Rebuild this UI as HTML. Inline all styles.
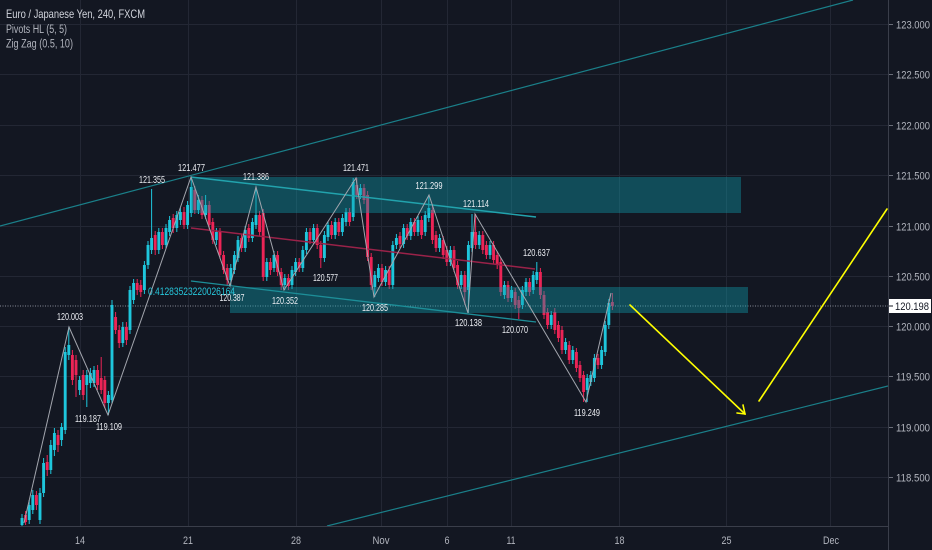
<!DOCTYPE html>
<html><head><meta charset="utf-8"><style>
html,body{margin:0;padding:0;background:#131722;}
svg{display:block;}
text{font-family:"Liberation Sans",Arial,sans-serif;}
</style></head><body>
<svg width="932" height="550" viewBox="0 0 932 550" xmlns="http://www.w3.org/2000/svg">
<defs><clipPath id="plot"><rect x="0" y="0" width="888" height="526"/></clipPath></defs>
<rect x="0" y="0" width="932" height="550" fill="#131722"/>
<!-- grid -->
<g stroke="#232734" stroke-width="1">
<path d="M0 24.5H888M0 74.5H888M0 125.5H888M0 175.5H888M0 226.5H888M0 276.5H888M0 326.5H888M0 376.5H888M0 427.5H888M0 477.5H888"/>
<path d="M80.5 0V526M188.5 0V526M296.5 0V526M381.5 0V526M447.5 0V526M511.5 0V526M619.5 0V526M726.5 0V526M830.5 0V526"/>
</g>
<!-- legend -->
<text x="6" y="18" font-size="12" fill="#d1d4dc" textLength="139" lengthAdjust="spacingAndGlyphs">Euro / Japanese Yen, 240, FXCM</text>
<text x="6" y="33" font-size="11.5" fill="#b2b5be" textLength="61" lengthAdjust="spacingAndGlyphs">Pivots HL (5, 5)</text>
<text x="6" y="47.5" font-size="11.5" fill="#b2b5be" textLength="67" lengthAdjust="spacingAndGlyphs">Zig Zag (0.5, 10)</text>
<g clip-path="url(#plot)">
<!-- channel lines -->
<line x1="0" y1="226" x2="853" y2="0" stroke="#1a7f89" stroke-width="1.2"/>
<line x1="327" y1="526" x2="888" y2="386" stroke="#1a7f89" stroke-width="1.2"/>
<!-- price dotted line -->
<line x1="0" y1="306" x2="888" y2="306" stroke="#8a8e99" stroke-width="1" stroke-dasharray="1,1.5"/>
<!-- candles up -->
<path fill="none" stroke="#1ec6dc" stroke-width="1" d="M22 514V526M29.2 500V524M32.8 490V514M40 488V524M43.6 458V497M50.8 440V474M54.4 428V456M61.6 423V446M65.2 347V434M68.8 327V360M79.6 376V395M86.8 370V407M90.4 368V388M94 366V387M108.4 391V415M112 300V404M122.8 322V347M130 286V334M133.6 279V304M144.4 261V294M148 241V269M151.6 189V254M158.8 228V254M166 224V249M169.6 216V236M176.8 211V232M180.4 208V225M187.6 201V229M191.2 177V217M198.4 195V214M205.6 195V219M216.4 228V245M230.8 264V286M234.4 251V274M238 236V262M245.2 226V252M252.4 218V242M256 187V229M266.8 258V281M274 251V272M284.8 274V290M292 266V289M295.6 258V276M302.8 246V272M306.4 228V254M313.6 224V244M324.4 231V262M328 221V241M335.2 218V239M342.4 214V236M346 208V226M353.2 178V221M360.4 184V199M374.8 271V297M378.4 264V282M385.6 266V286M392.8 241V289M396.4 234V249M403.6 224V248M410.8 218V240M418 216V236M425.2 211V236M428.8 195V222M439.6 234V252M450.4 246V266M461.2 271V289M468.4 241V313M472 214V252M479.2 231V249M490 241V259M504.4 281V299M511.6 286V302M522.4 286V309M526 278V296M533.2 271V294M536.8 262V284M551.2 311V329M565.6 338V354M572.8 346V364M587.2 374V402M590.8 371V386M594.4 354V382M601.6 346V369M605.2 321V356M608.8 299V329"/>
<path fill="none" stroke="#1ec6dc" stroke-width="2.9" d="M22 518V525M29.2 505V520M32.8 495V510M40 493V520M43.6 463V493M50.8 445V470M54.4 433V450M61.6 427V440M65.2 352V430M68.8 345V355M79.6 380V390M86.8 375V385M90.4 373V383M94 370V383M108.4 395V403M112 305V400M122.8 327V343M130 290V330M133.6 283V300M144.4 265V290M148 245V265M151.6 238V250M158.8 232V250M166 228V245M169.6 220V232M176.8 215V228M180.4 212V220M187.6 205V225M191.2 187V213M198.4 200V210M205.6 205V215M216.4 232V240M230.8 268V280M234.4 255V270M238 240V258M245.2 230V248M252.4 222V238M256 215V225M266.8 262V277M274 255V268M284.8 278V285M292 270V285M295.6 262V272M302.8 250V268M306.4 232V250M313.6 228V240M324.4 235V258M328 225V237M335.2 222V235M342.4 218V232M346 212V222M353.2 182V217M360.4 188V195M374.8 275V287M378.4 268V278M385.6 270V282M392.8 245V285M396.4 238V245M403.6 228V244M410.8 222V236M418 220V232M425.2 215V232M428.8 208V218M439.6 238V248M450.4 250V262M461.2 275V285M468.4 245V290M472 232V248M479.2 235V245M490 245V255M504.4 285V295M511.6 290V298M522.4 290V305M526 282V292M533.2 275V290M536.8 272V280M551.2 315V325M565.6 342V350M572.8 350V360M587.2 378V390M590.8 375V382M594.4 358V378M601.6 350V365M605.2 325V352M608.8 303V325"/>
<!-- candles down -->
<path fill="none" stroke="#ec2456" stroke-width="1" d="M25.6 511V525M36.4 491V510M47.2 455V476M58 430V452M72.4 350V385M76 355V397M83.2 370V400M97.6 365V390M101.2 357V394M104.8 376V408M115.6 312V334M119.2 325V348M126.4 322V345M137.2 279V295M140.8 280V297M155.2 231V255M162.4 228V249M173.2 214V233M184 207V229M194.8 186V214M202 196V219M209.2 201V229M212.8 218V244M220 228V259M223.6 251V274M227.2 264V286M241.6 234V252M248.8 224V242M259.6 211V236M263.2 209V281M270.4 258V275M277.6 251V276M281.2 268V290M288.4 274V290M299.2 258V272M310 228V244M317.2 224V249M320.8 241V268M331.6 221V239M338.8 218V236M349.6 208V226M356.8 178V199M364 184V204M367.6 191V261M371.2 253V290M382 264V286M389.2 266V289M400 232V248M407.2 224V240M414.4 218V236M421.6 216V239M432.4 206V244M436 231V252M443.2 236V259M446.8 246V266M454 246V272M457.6 261V289M464.8 271V305M475.6 214V249M482.8 231V254M486.4 241V259M493.6 241V264M497.2 251V269M500.8 258V296M508 281V302M515.2 288V309M518.8 296V319M529.6 278V296M540.4 268V299M544 291V319M547.6 308V329M554.8 308V334M558.4 321V342M562 326V354M569.2 341V364M576.4 348V372M580 361V382M583.6 371V402M598 354V369M612.4 293V310"/>
<path fill="none" stroke="#ec2456" stroke-width="2.9" d="M25.6 515V522M36.4 495V505M47.2 462V470M58 435V445M72.4 355V380M76 360V375M83.2 375V395M97.6 370V385M101.2 378V390M104.8 380V403M115.6 317V330M119.2 330V343M126.4 327V340M137.2 283V290M140.8 285V292M155.2 235V250M162.4 232V245M173.2 218V228M184 212V225M194.8 190V210M202 200V215M209.2 205V225M212.8 222V240M220 232V255M223.6 255V270M227.2 268V280M241.6 238V248M248.8 228V238M259.6 215V232M263.2 213V277M270.4 262V270M277.6 255V272M281.2 272V285M288.4 278V286M299.2 262V268M310 232V240M317.2 228V245M320.8 245V258M331.6 225V235M338.8 222V232M349.6 212V222M356.8 185V195M364 188V200M367.6 195V257M371.2 257V285M382 268V282M389.2 270V285M400 236V244M407.2 228V236M414.4 222V232M421.6 220V235M432.4 210V240M436 235V248M443.2 240V255M446.8 250V262M454 250V268M457.6 265V285M464.8 275V292M475.6 232V245M482.8 235V250M486.4 245V255M493.6 245V260M497.2 255V265M500.8 262V292M508 285V298M515.2 292V305M518.8 300V308M529.6 282V292M540.4 272V295M544 295V315M547.6 312V325M554.8 312V330M558.4 325V338M562 330V350M569.2 345V360M576.4 352V368M580 365V378M583.6 375V392M598 358V365M612.4 302V306"/>
<!-- boxes -->
<rect x="191" y="177" width="550" height="36" fill="#109dac" fill-opacity="0.4"/>
<rect x="230" y="287" width="518" height="26" fill="#109dac" fill-opacity="0.4"/>
<!-- trend lines -->
<line x1="191" y1="177" x2="536" y2="217" stroke="#22a3ad" stroke-width="1.5"/>
<line x1="191" y1="281" x2="536" y2="322" stroke="#1d8e98" stroke-width="1.3"/>
<line x1="191" y1="228" x2="535" y2="269" stroke="#9a2249" stroke-width="1.5"/>
<!-- zigzag -->
<polyline fill="none" stroke="#a3a6ae" stroke-width="1" points="24,523 69,327 108,415 191,177 230,286 256,187 284,290 356,178 374,297 429,195 468,313 475,214 586,402 611,293"/>
<!-- yellow projection -->
<g stroke="#ffff00" stroke-width="1.6" fill="none" stroke-linecap="round">
<line x1="630" y1="305" x2="745" y2="414"/>
<path d="M737 413L745 414L743 405"/>
<line x1="759" y1="401" x2="887" y2="209"/>
</g>
</g>
<!-- fib label -->
<text x="148" y="295" font-size="11" fill="#26c6da" textLength="87" lengthAdjust="spacingAndGlyphs">0.41283523220026164</text>
<!-- pivot labels -->
<g font-size="10.5" fill="#eceef3" text-anchor="middle">
<text x="70" y="320" textLength="26" lengthAdjust="spacingAndGlyphs">120.003</text>
<text x="88" y="422" textLength="26" lengthAdjust="spacingAndGlyphs">119.187</text>
<text x="109" y="430" textLength="26" lengthAdjust="spacingAndGlyphs">119.109</text>
<text x="152" y="183" textLength="26" lengthAdjust="spacingAndGlyphs">121.355</text>
<text x="191.5" y="171" textLength="27" lengthAdjust="spacingAndGlyphs">121.477</text>
<text x="256" y="180" textLength="26" lengthAdjust="spacingAndGlyphs">121.386</text>
<text x="232" y="301" textLength="25" lengthAdjust="spacingAndGlyphs">120.387</text>
<text x="285" y="304" textLength="26" lengthAdjust="spacingAndGlyphs">120.352</text>
<text x="325.5" y="281" textLength="25" lengthAdjust="spacingAndGlyphs">120.577</text>
<text x="356" y="171" textLength="26" lengthAdjust="spacingAndGlyphs">121.471</text>
<text x="429" y="189" textLength="27" lengthAdjust="spacingAndGlyphs">121.299</text>
<text x="476" y="207" textLength="26" lengthAdjust="spacingAndGlyphs">121.114</text>
<text x="375" y="311" textLength="26" lengthAdjust="spacingAndGlyphs">120.285</text>
<text x="468.5" y="326" textLength="27" lengthAdjust="spacingAndGlyphs">120.138</text>
<text x="536.5" y="256" textLength="27" lengthAdjust="spacingAndGlyphs">120.637</text>
<text x="515" y="333" textLength="26" lengthAdjust="spacingAndGlyphs">120.070</text>
<text x="587" y="416" textLength="26" lengthAdjust="spacingAndGlyphs">119.249</text>
</g>
<!-- axes borders -->
<line x1="888.5" y1="0" x2="888.5" y2="550" stroke="#3a3e4a" stroke-width="1"/>
<line x1="0" y1="526.5" x2="888" y2="526.5" stroke="#3a3e4a" stroke-width="1"/>
<!-- price ticks -->
<g stroke="#6a6e79" stroke-width="1">
<path d="M889 24.5h4M889 74.5h4M889 125.5h4M889 175.5h4M889 226.5h4M889 276.5h4M889 326.5h4M889 376.5h4M889 427.5h4M889 477.5h4"/>
</g>
<g font-size="11" fill="#b2b5be">
<text x="896" y="28.5" textLength="34" lengthAdjust="spacingAndGlyphs">123.000</text>
<text x="896" y="78.5" textLength="34" lengthAdjust="spacingAndGlyphs">122.500</text>
<text x="896" y="129.5" textLength="34" lengthAdjust="spacingAndGlyphs">122.000</text>
<text x="896" y="179.5" textLength="34" lengthAdjust="spacingAndGlyphs">121.500</text>
<text x="896" y="230.5" textLength="34" lengthAdjust="spacingAndGlyphs">121.000</text>
<text x="896" y="280.5" textLength="34" lengthAdjust="spacingAndGlyphs">120.500</text>
<text x="896" y="330.5" textLength="34" lengthAdjust="spacingAndGlyphs">120.000</text>
<text x="896" y="380.5" textLength="34" lengthAdjust="spacingAndGlyphs">119.500</text>
<text x="896" y="431.5" textLength="34" lengthAdjust="spacingAndGlyphs">119.000</text>
<text x="896" y="481.5" textLength="34" lengthAdjust="spacingAndGlyphs">118.500</text>
</g>
<!-- current price label -->
<rect x="889" y="299" width="42" height="14" fill="#ffffff"/>
<line x1="889" y1="306" x2="893" y2="306" stroke="#131722" stroke-width="1"/>
<text x="895" y="310" font-size="11" fill="#131722" textLength="34" lengthAdjust="spacingAndGlyphs">120.198</text>
<!-- date labels -->
<g font-size="11" fill="#b2b5be" text-anchor="middle">
<text x="80" y="544" textLength="10" lengthAdjust="spacingAndGlyphs">14</text>
<text x="188" y="544" textLength="10" lengthAdjust="spacingAndGlyphs">21</text>
<text x="296" y="544" textLength="10" lengthAdjust="spacingAndGlyphs">28</text>
<text x="381" y="544" textLength="17" lengthAdjust="spacingAndGlyphs">Nov</text>
<text x="447" y="544" textLength="5" lengthAdjust="spacingAndGlyphs">6</text>
<text x="511" y="544" textLength="9" lengthAdjust="spacingAndGlyphs">11</text>
<text x="619.5" y="544" textLength="10" lengthAdjust="spacingAndGlyphs">18</text>
<text x="726.5" y="544" textLength="10" lengthAdjust="spacingAndGlyphs">25</text>
<text x="831" y="544" textLength="16" lengthAdjust="spacingAndGlyphs">Dec</text>
</g>
</svg>
</body></html>
